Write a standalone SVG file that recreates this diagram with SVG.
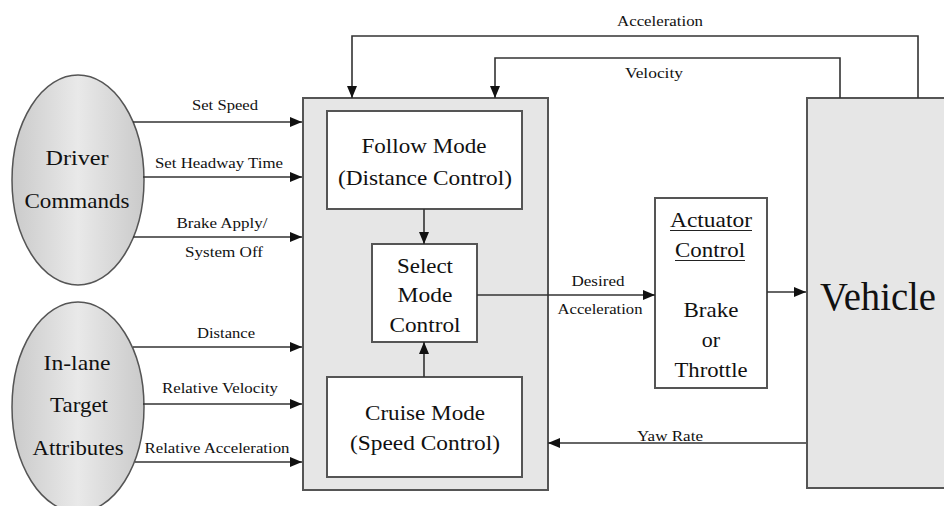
<svg xmlns="http://www.w3.org/2000/svg" width="944" height="506" viewBox="0 0 944 506" font-family="Liberation Serif, serif">
  <defs>
    <linearGradient id="ovalFill" x1="0" y1="0" x2="1" y2="0">
      <stop offset="0" stop-color="#cacaca"/>
      <stop offset="0.5" stop-color="#e9e9e9"/>
      <stop offset="1" stop-color="#cacaca"/>
    </linearGradient>
    <marker id="arrow" viewBox="0 0 12 10" refX="12" refY="5" markerWidth="12" markerHeight="10" markerUnits="userSpaceOnUse" orient="auto">
      <path d="M0,0 L12,5 L0,10 z" fill="#111"/>
    </marker>
    <style>
      text { font-family: Liberation Serif, serif; fill: #111; }
      .lbl { font-size: 15px; text-anchor: middle; }
      .big { font-size: 22px; text-anchor: middle; }
      .oval { fill: url(#ovalFill); stroke: #555; stroke-width: 1.5; }
      .panel { fill: #e6e6e6; stroke: #555; stroke-width: 2; }
      .box { fill: #ffffff; stroke: #555; stroke-width: 2; }
      .wire { fill: none; stroke: #333; stroke-width: 1.6; marker-end: url(#arrow); }
      .ul { stroke: #222; stroke-width: 1.2; }
    </style>
  </defs>

  <rect width="944" height="506" fill="#ffffff"/>

  <!-- source ovals -->
  <g id="driver-commands">
    <ellipse class="oval" cx="78" cy="180" rx="66" ry="105"/>
    <text class="big" x="77" y="165" textLength="63" lengthAdjust="spacingAndGlyphs">Driver</text>
    <text class="big" x="77" y="208" textLength="105" lengthAdjust="spacingAndGlyphs">Commands</text>
  </g>
  <g id="target-attributes">
    <ellipse class="oval" cx="78" cy="407" rx="66" ry="105"/>
    <text class="big" x="77" y="370" textLength="67" lengthAdjust="spacingAndGlyphs">In-lane</text>
    <text class="big" x="79" y="412" textLength="58" lengthAdjust="spacingAndGlyphs">Target</text>
    <text class="big" x="78" y="455" textLength="91" lengthAdjust="spacingAndGlyphs">Attributes</text>
  </g>

  <!-- controller panel with its mode blocks -->
  <g id="controller">
    <rect class="panel" x="303" y="98" width="245" height="392"/>
  </g>
  <g id="follow-mode">
    <rect class="box" x="327" y="111" width="195" height="98"/>
    <text class="big" x="424" y="153" textLength="125" lengthAdjust="spacingAndGlyphs">Follow Mode</text>
    <text class="big" x="425" y="185" textLength="174" lengthAdjust="spacingAndGlyphs">(Distance Control)</text>
  </g>
  <g id="select-mode">
    <rect class="box" x="372" y="244" width="105" height="98"/>
    <text class="big" x="425" y="273" textLength="56" lengthAdjust="spacingAndGlyphs">Select</text>
    <text class="big" x="425" y="302" textLength="55" lengthAdjust="spacingAndGlyphs">Mode</text>
    <text class="big" x="425" y="332" textLength="71" lengthAdjust="spacingAndGlyphs">Control</text>
  </g>
  <g id="cruise-mode">
    <rect class="box" x="327" y="377" width="195" height="100"/>
    <text class="big" x="425" y="420" textLength="120" lengthAdjust="spacingAndGlyphs">Cruise Mode</text>
    <text class="big" x="425" y="450" textLength="150" lengthAdjust="spacingAndGlyphs">(Speed Control)</text>
  </g>

  <!-- actuator block -->
  <g id="actuator-control">
    <rect class="box" x="655" y="198" width="112" height="190"/>
    <text class="big" x="711" y="227" textLength="82" lengthAdjust="spacingAndGlyphs">Actuator</text>
    <line class="ul" x1="670" y1="230.5" x2="752" y2="230.5"/>
    <text class="big" x="710" y="257" textLength="70" lengthAdjust="spacingAndGlyphs">Control</text>
    <line class="ul" x1="675" y1="260.5" x2="745" y2="260.5"/>
    <text class="big" x="711" y="317" textLength="55" lengthAdjust="spacingAndGlyphs">Brake</text>
    <text class="big" x="711" y="347">or</text>
    <text class="big" x="711" y="377" textLength="73" lengthAdjust="spacingAndGlyphs">Throttle</text>
  </g>

  <!-- plant -->
  <g id="vehicle">
    <rect class="panel" x="807" y="98" width="150" height="390"/>
    <text x="820" y="310" font-size="39" textLength="116" lengthAdjust="spacingAndGlyphs">Vehicle</text>
  </g>

  <!-- signal connectors -->
  <g id="connectors">
    <path class="wire" d="M133,122 H302"/>
    <path class="wire" d="M143,177 H302"/>
    <path class="wire" d="M133,237 H302"/>
    <path class="wire" d="M133,347 H302"/>
    <path class="wire" d="M143,404 H302"/>
    <path class="wire" d="M135,462 H302"/>
    <path class="wire" d="M918,98 V36 H352 V98"/>
    <path class="wire" d="M840,98 V58 H495 V98"/>
    <path class="wire" d="M424,209 V244"/>
    <path class="wire" d="M424,377 V342"/>
    <path class="wire" d="M477,295 H655"/>
    <path class="wire" d="M767,292 H806"/>
    <path class="wire" d="M806,443 H548"/>

    <text class="lbl" x="225" y="110" textLength="66" lengthAdjust="spacingAndGlyphs">Set Speed</text>
    <text class="lbl" x="219" y="168" textLength="128" lengthAdjust="spacingAndGlyphs">Set Headway Time</text>
    <text class="lbl" x="222" y="228" textLength="91" lengthAdjust="spacingAndGlyphs">Brake Apply/</text>
    <text class="lbl" x="224" y="257" textLength="78" lengthAdjust="spacingAndGlyphs">System Off</text>
    <text class="lbl" x="226" y="338" textLength="58" lengthAdjust="spacingAndGlyphs">Distance</text>
    <text class="lbl" x="220" y="393" textLength="116" lengthAdjust="spacingAndGlyphs">Relative Velocity</text>
    <text class="lbl" x="217" y="453" textLength="145" lengthAdjust="spacingAndGlyphs">Relative Acceleration</text>
    <text class="lbl" x="660" y="26" textLength="86" lengthAdjust="spacingAndGlyphs">Acceleration</text>
    <text class="lbl" x="654" y="78" textLength="58" lengthAdjust="spacingAndGlyphs">Velocity</text>
    <text class="lbl" x="598" y="286" textLength="53" lengthAdjust="spacingAndGlyphs">Desired</text>
    <text class="lbl" x="600" y="314" textLength="85" lengthAdjust="spacingAndGlyphs">Acceleration</text>
    <text class="lbl" x="670" y="441" textLength="66" lengthAdjust="spacingAndGlyphs">Yaw Rate</text>
  </g>
</svg>
